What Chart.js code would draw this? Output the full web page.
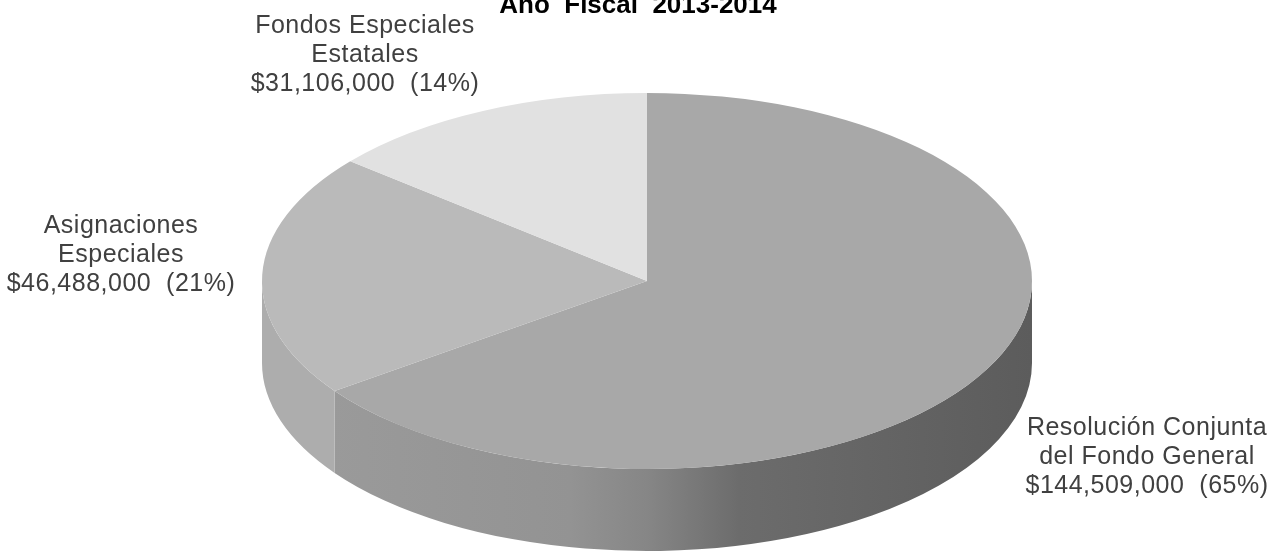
<!DOCTYPE html>
<html>
<head>
<meta charset="utf-8">
<title>Año Fiscal 2013-2014</title>
<script src="https://cdn.jsdelivr.net/npm/chart.js@4/dist/chart.umd.min.js"></script>
<style>
  html, body { margin: 0; padding: 0; background: #fff; }
  #wrap { width: 1282px; height: 554px; position: relative; }
</style>
</head>
<body>
<div id="wrap"><canvas id="pieChart"></canvas></div>
<script>
  // data
  const chartTitle = 'Año  Fiscal  2013-2014';
  const categories = [
    'Resolución Conjunta del Fondo General',
    'Asignaciones Especiales',
    'Fondos Especiales Estatales'
  ];
  const labelLines = [
    ['Resolución Conjunta', 'del Fondo General'],
    ['Asignaciones', 'Especiales'],
    ['Fondos Especiales', 'Estatales']
  ];
  const amounts = [144509000, 46488000, 31106000];
  const percents = [65, 21, 14];

  // look
  const topColors = ['#a8a8a8', '#bababa', '#e1e1e1'];
  const sideColor = '#adadad';
  const ELLIPSE_RX = 385;
  const DEPTH = 82;
  const labelPos = [
    { x: 1147, y: 435 },
    { x: 121, y: 233 },
    { x: 365, y: 33 }
  ];
  const LINE_H = 29;

  function money(v) {
    return '$' + v.toLocaleString('en-US');
  }

  const pie3d = {
    id: 'pie3d',
    beforeDatasetsDraw(chart) {
      const meta = chart.getDatasetMeta(0);
      const { x, y, outerRadius } = meta.data[0];
      const ctx = chart.ctx;
      ctx.save();
      ctx.translate(x, 0);
      ctx.scale(ELLIPSE_RX / outerRadius, 1);
      ctx.translate(-x, 0);

      // front side of the disc
      meta.data.forEach((arc, i) => {
        const a = Math.max(arc.startAngle, 0);
        const b = Math.min(arc.endAngle, Math.PI);
        if (b <= a) return;
        ctx.beginPath();
        ctx.arc(x, y, outerRadius, a, b);
        ctx.arc(x, y + DEPTH, outerRadius, b, a, true);
        ctx.closePath();
        if (i === 0) {
          const g = ctx.createLinearGradient(x - outerRadius, 0, x + outerRadius, 0);
          g.addColorStop(0, '#9c9c9c');
          g.addColorStop(0.4, '#939393');
          g.addColorStop(0.5, '#868686');
          g.addColorStop(0.62, '#6c6c6c');
          g.addColorStop(1, '#5c5c5c');
          ctx.fillStyle = g;
        } else {
          ctx.fillStyle = sideColor;
        }
        ctx.fill();
      });
    },
    afterDatasetsDraw(chart) {
      chart.ctx.restore();
    },
    afterDraw(chart) {
      const ctx = chart.ctx;
      ctx.save();
      if ('letterSpacing' in ctx) ctx.letterSpacing = '0px';
      ctx.textAlign = 'center';
      ctx.textBaseline = 'alphabetic';
      ctx.fillStyle = '#000';
      ctx.font = 'bold 26px "Liberation Sans", Arial, sans-serif';
      ctx.fillText(chartTitle, 638, 13);

      ctx.fillStyle = '#404040';
      ctx.font = '25px "Liberation Sans", Arial, sans-serif';
      if ('letterSpacing' in ctx) ctx.letterSpacing = '0.5px';
      labelLines.forEach((lines, i) => {
        const all = lines.concat([money(amounts[i]) + '  (' + percents[i] + '%)']);
        all.forEach((t, k) => {
          ctx.fillText(t, labelPos[i].x, labelPos[i].y + k * LINE_H);
        });
      });
      ctx.restore();
    }
  };

  new Chart(document.getElementById('pieChart'), {
    type: 'pie',
    data: {
      labels: categories,
      datasets: [{
        data: amounts,
        backgroundColor: topColors,
        borderWidth: 0
      }]
    },
    options: {
      responsive: true,
      maintainAspectRatio: false,
      animation: false,
      events: [],
      layout: {
        padding: { left: 459, right: 447, top: 93, bottom: 85 }
      },
      plugins: {
        legend: { display: false },
        tooltip: { enabled: false },
        title: { display: false }
      }
    },
    plugins: [pie3d]
  });
</script>
</body>
</html>
